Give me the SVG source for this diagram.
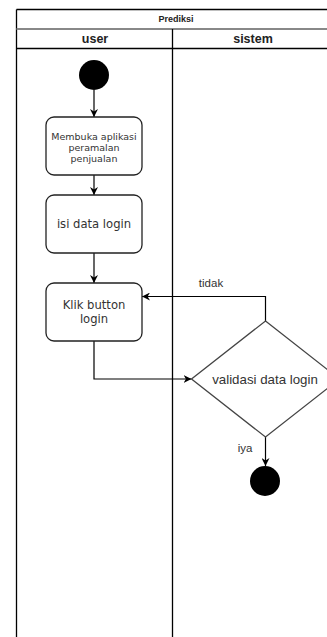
<svg xmlns="http://www.w3.org/2000/svg" width="327" height="637" viewBox="0 0 327 637">
<style>
.ln{stroke:#000;stroke-width:1.3;fill:none}
.box{fill:#fff;stroke:#222;stroke-width:1.3}
.dv{font-family:"DejaVu Sans",Verdana,sans-serif;fill:#333;text-anchor:middle}
.ls{font-family:"Liberation Sans",Arial,sans-serif;fill:#333;text-anchor:middle}
.hd{font-family:"Liberation Sans",Arial,sans-serif;font-weight:bold;fill:#222;text-anchor:middle}
.con{stroke:#000;stroke-width:1.2;fill:none;marker-end:url(#arr)}
</style>
<defs>
<marker id="arr" viewBox="0 0 10 10" refX="10" refY="5" markerWidth="8" markerHeight="8" markerUnits="userSpaceOnUse" orient="auto">
<path d="M0,0 L10,5 L0,10 L3,5 z" fill="#000"/>
</marker>
</defs>
<rect width="327" height="637" fill="#fff"/>
<g id="pool">
<line class="ln" x1="16.5" y1="9.5" x2="340" y2="9.5"/>
<line class="ln" x1="16.5" y1="9.5" x2="16.5" y2="637"/>
<line x1="16.5" y1="29" x2="340" y2="29" stroke="#888" stroke-width="2"/>
<line class="ln" x1="16.5" y1="48.5" x2="340" y2="48.5"/>
<line class="ln" x1="172.5" y1="29" x2="172.5" y2="637"/>
<text class="hd" x="176" y="22" font-size="9">Prediksi</text>
<text class="hd" x="95" y="43" font-size="12.5">user</text>
<text class="hd" x="253" y="43" font-size="12.5">sistem</text>
</g>
<g id="connectors">
<line class="con" x1="94" y1="90" x2="94" y2="117"/>
<line class="con" x1="94" y1="175" x2="94" y2="195"/>
<line class="con" x1="94" y1="253" x2="94" y2="283"/>
<polyline class="con" points="94,341 94,379 191.5,379"/>
<polyline class="con" points="265.5,321 265.5,296.5 142,296.5"/>
<line class="con" x1="265.5" y1="437" x2="265.5" y2="466"/>
<text class="ls" x="211" y="287" font-size="11.5">tidak</text>
<text class="ls" x="245" y="452" font-size="11.5">iya</text>
</g>
<g id="start">
<circle cx="94" cy="75" r="15" fill="#000"/>
</g>
<g id="membuka">
<rect class="box" x="46" y="117" width="96" height="58" rx="8"/>
<text class="dv" x="94" y="140" font-size="9.5">Membuka aplikasi</text>
<text class="dv" x="94" y="151" font-size="9.5">peramalan</text>
<text class="dv" x="94" y="162" font-size="9.5">penjualan</text>
</g>
<g id="isi">
<rect class="box" x="46" y="195" width="96" height="58" rx="8"/>
<text class="dv" x="94" y="228" font-size="11.6">isi data login</text>
</g>
<g id="klik">
<rect class="box" x="46" y="283" width="96" height="58" rx="8"/>
<text class="dv" x="94" y="309" font-size="11.6">Klik button</text>
<text class="dv" x="94" y="323" font-size="11.6">login</text>
</g>
<g id="validasi">
<polygon points="265.5,321 339.5,379 265.5,437 191.5,379" fill="#fff" stroke="#444" stroke-width="1.3"/>
<text class="ls" x="265" y="384" font-size="13.3">validasi data login</text>
</g>
<g id="end">
<circle cx="265" cy="481" r="15" fill="#000"/>
</g>
</svg>
